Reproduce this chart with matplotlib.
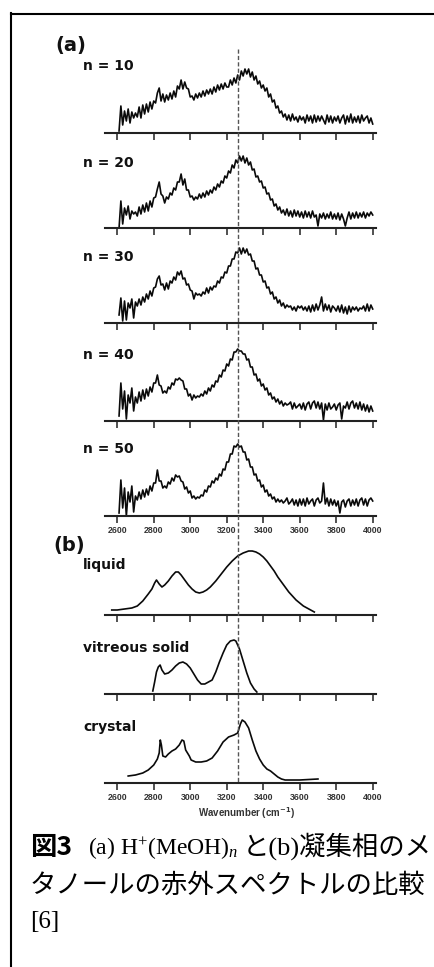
import numpy as np
import matplotlib
matplotlib.use("Agg")
import matplotlib.pyplot as plt
from matplotlib.lines import Line2D

plt.rcParams['mathtext.fontset'] = 'custom'
plt.rcParams['mathtext.rm'] = 'Liberation Serif'
plt.rcParams['mathtext.it'] = 'Liberation Serif:italic'
plt.rcParams['mathtext.bf'] = 'Liberation Serif:bold'

# ---------------- data ----------------
tick_values = [2600, 2800, 3000, 3200, 3400, 3600, 3800, 4000]
tick_labels = ["2600", "2800", "3000", "3200", "3400", "3600", "3800", "4000"]
x_dash = 3263

# (a) H+(MeOH)n spectra, wavenumber grid 2610..4000 step 10
wn_a = np.arange(2610, 4001, 10)
labels_a = ["n = 10", "n = 20", "n = 30", "n = 40", "n = 50"]

n10 = [2, 27, 8, 22, 12, 24, 10, 21, 15, 20,
       16, 26, 15, 28, 19, 29, 21, 31, 24, 32,
       30, 40, 45, 32, 39, 31, 38, 33, 40, 34,
       42, 36, 47, 44, 53, 44, 51, 45, 44, 36,
       37, 33, 39, 35, 40, 36, 42, 37, 43, 39,
       44, 39, 46, 41, 48, 43, 49, 44, 50, 46,
       46, 53, 48, 55, 50, 58, 53, 62, 57, 64,
       59, 64, 56, 61, 53, 57, 49, 52, 45, 48,
       42, 45, 36, 39, 31, 33, 25, 27, 20, 22,
       16, 19, 13, 18, 12, 19, 13, 16, 11, 17,
       13, 16, 10, 18, 12, 17, 10, 18, 11, 17,
       12, 17, 13, 9, 18, 11, 17, 10, 16, 12,
       17, 10, 15, 18, 9, 17, 11, 19, 10, 16,
       11, 17, 10, 18, 12, 15, 17, 10, 15, 9]

n20 = [0, 27, 4, 20, 13, 22, 9, 17, 14, 16,
       12, 21, 14, 23, 16, 25, 17, 27, 21, 30,
       31, 39, 46, 34, 32, 25, 31, 29, 35, 33,
       40, 38, 46, 46, 54, 43, 49, 38, 38, 31,
       32, 28, 31, 29, 34, 30, 35, 31, 37, 33,
       38, 35, 41, 38, 44, 41, 47, 45, 52, 50,
       57, 55, 63, 60, 68, 65, 72, 67, 72, 65,
       70, 63, 66, 58, 59, 51, 52, 46, 47, 40,
       41, 34, 35, 28, 29, 22, 24, 18, 21, 15,
       18, 13, 19, 12, 17, 11, 18, 12, 17, 11,
       16, 10, 17, 11, 16, 10, 17, 11, 13, 2,
       14, 10, 15, 9, 14, 10, 16, 9, 14, 9,
       15, 8, 14, 9, 2, 10, 16, 9, 15, 10,
       16, 10, 15, 11, 16, 10, 15, 12, 16, 13]

n30 = [8, 25, 2, 22, 3, 20, 15, 24, 5, 21,
       17, 24, 18, 26, 21, 29, 24, 32, 27, 35,
       36, 44, 47, 38, 39, 33, 40, 34, 42, 40,
       46, 43, 51, 48, 52, 44, 45, 38, 39, 33,
       32, 24, 30, 28, 29, 27, 31, 29, 35, 30,
       36, 33, 37, 36, 42, 40, 46, 45, 51, 50,
       57, 57, 64, 64, 71, 70, 75, 69, 75, 70,
       74, 68, 69, 62, 62, 54, 55, 48, 48, 41,
       42, 35, 36, 29, 31, 24, 26, 20, 23, 17,
       20, 15, 18, 16, 17, 13, 16, 12, 17, 15,
       17, 13, 16, 12, 17, 11, 18, 12, 19, 13,
       18, 26, 12, 19, 13, 18, 11, 17, 15, 12,
       17, 11, 18, 10, 16, 9, 17, 11, 16, 13,
       16, 12, 15, 14, 17, 12, 19, 12, 18, 14]

n40 = [5, 38, 12, 30, 2, 26, 18, 33, 10, 24,
       18, 29, 20, 31, 22, 32, 25, 34, 29, 38,
       38, 46, 36, 35, 28, 30, 28, 34, 32, 38,
       36, 42, 41, 43, 41, 40, 32, 32, 25, 27,
       21, 26, 23, 25, 24, 27, 25, 30, 27, 33,
       30, 36, 34, 40, 39, 46, 44, 51, 50, 57,
       55, 62, 61, 69, 69, 72, 70, 70, 67, 67,
       61, 62, 54, 54, 46, 47, 40, 42, 35, 37,
       31, 33, 26, 28, 22, 24, 19, 22, 17, 20,
       15, 18, 16, 17, 19, 12, 18, 13, 15, 17,
       12, 18, 11, 17, 19, 12, 18, 20, 13, 19,
       12, 18, 1, 17, 11, 18, 12, 14, 17, 11,
       16, 18, 2, 15, 13, 19, 12, 18, 20, 13,
       18, 12, 19, 11, 17, 10, 16, 9, 15, 10]

n50 = [3, 36, 8, 28, 0, 24, 14, 30, 4, 20,
       16, 24, 17, 26, 19, 27, 21, 30, 25, 33,
       33, 46, 35, 35, 28, 30, 28, 34, 32, 38,
       35, 41, 39, 40, 35, 34, 27, 29, 23, 25,
       18, 20, 17, 19, 18, 21, 20, 26, 24, 30,
       29, 35, 33, 38, 36, 42, 40, 47, 46, 54,
       54, 62, 62, 70, 69, 72, 69, 70, 64, 64,
       56, 57, 49, 49, 41, 42, 35, 36, 29, 31,
       24, 26, 20, 22, 17, 19, 14, 17, 14, 16,
       13, 15, 18, 12, 14, 17, 11, 16, 10, 17,
       11, 17, 10, 18, 12, 15, 17, 10, 16, 18,
       13, 15, 33, 12, 18, 10, 17, 11, 16, 10,
       15, 3, 14, 16, 9, 15, 17, 10, 16, 11,
       17, 10, 16, 18, 11, 17, 10, 16, 18, 15]

# (b) condensed-phase methanol spectra
labels_b = ["liquid", "vitreous solid", "crystal"]

liquid_wn = [2570, 2600, 2640, 2680, 2710, 2740, 2770, 2790, 2805, 2815,
             2830, 2845, 2860, 2880, 2900, 2920, 2935, 2950, 2970, 2990,
             3010, 3030, 3050, 3070, 3090, 3110, 3140, 3170, 3200, 3230,
             3260, 3290, 3320, 3340, 3360, 3380, 3400, 3420, 3440, 3460,
             3480, 3500, 3520, 3540, 3560, 3580, 3600, 3620, 3640, 3660, 3680]
liquid_int = [5, 5, 6, 7, 9, 14, 21, 26, 32, 35,
              31, 28, 30, 34, 39, 43, 43, 40, 35, 30,
              26, 23, 22, 23, 25, 28, 34, 41, 48, 54,
              59, 62, 64, 64, 63, 61, 58, 54, 49, 44,
              38, 33, 28, 23, 19, 15, 12, 9, 7, 5, 3]

vitreous_wn = [2795, 2805, 2815, 2825, 2835, 2845, 2860, 2880, 2900, 2920,
               2940, 2960, 2980, 3000, 3020, 3040, 3060, 3080, 3100, 3120,
               3140, 3160, 3180, 3200, 3220, 3240, 3250, 3270, 3290, 3310,
               3330, 3350, 3365]
vitreous_int = [3, 12, 22, 27, 29, 24, 20, 21, 24, 28,
                31, 32, 30, 26, 20, 14, 10, 10, 12, 14,
                22, 32, 41, 49, 53, 54, 53, 45, 33, 21,
                11, 5, 2]

crystal_wn = [2660, 2700, 2740, 2770, 2800, 2820, 2830, 2836, 2842, 2850,
              2865, 2880, 2900, 2920, 2940, 2955, 2965, 2975, 2985, 2995,
              3005, 3030, 3060, 3090, 3120, 3150, 3180, 3210, 3240, 3260,
              3275, 3285, 3300, 3320, 3340, 3360, 3380, 3400, 3420, 3440,
              3460, 3480, 3500, 3520, 3600, 3700]
crystal_int = [7, 8, 10, 13, 18, 24, 30, 43, 38, 27,
               26, 29, 32, 34, 38, 43, 42, 33, 30, 27,
               23, 21, 21, 22, 25, 32, 41, 46, 48, 50,
               59, 63, 61, 55, 43, 32, 24, 18, 14, 12,
               9, 6, 4, 3, 3, 4]

# ---------------- layout ----------------
W, H, DPI = 435, 967, 100
fig = plt.figure(figsize=(W / DPI, H / DPI), dpi=DPI)
fig.patch.set_facecolor("white")


def fx(px):
    return px / W


def fy(py):
    return 1 - py / H


AX_L, AX_R, AX_H = 105, 376, 75
XLIM = (2533, 4018)
baselines = [133, 228, 323, 421, 516, 615, 694, 783]
label_y = [66, 163, 257, 355, 449, 565, 648, 727]

series = [(wn_a, n10), (wn_a, n20), (wn_a, n30), (wn_a, n40), (wn_a, n50),
          (liquid_wn, liquid_int), (vitreous_wn, vitreous_int),
          (crystal_wn, crystal_int)]
names = labels_a + labels_b
show_ticklabels = [False, False, False, False, True, False, False, True]

axes = []
for i, ((xs, ys), base) in enumerate(zip(series, baselines)):
    ax = fig.add_axes([fx(AX_L), fy(base), fx(AX_R) - fx(AX_L), AX_H / H])
    lw = 1.2 if i < 5 else 1.2
    ax.plot(xs, ys, color="#0a0a0a", lw=lw, clip_on=False)
    ax.set_xlim(XLIM)
    ax.set_ylim(0, AX_H)
    for s in ["top", "right", "left"]:
        ax.spines[s].set_visible(False)
    ax.spines["bottom"].set_linewidth(1.5)
    ax.spines["bottom"].set_color("#222222")
    ax.set_yticks([])
    ax.set_xticks(tick_values)
    ax.tick_params(axis="x", direction="out", length=5, width=1.1,
                   color="#222222", pad=2.5)
    if show_ticklabels[i]:
        ax.set_xticklabels(tick_labels, fontsize=6.3, fontweight="bold",
                           family="Liberation Sans", color="#333333")
    else:
        ax.tick_params(labelbottom=False)
    ax.patch.set_visible(False)
    fig.text(fx(83), fy(label_y[i]), names[i], fontsize=10, fontweight="bold",
             family="DejaVu Sans", va="center", ha="left", color="#111111")
    axes.append(ax)

# panel letters
fig.text(fx(55), fy(46), "(a)", fontsize=14, fontweight="bold",
         family="DejaVu Sans", va="center", ha="left", color="#111111")
fig.text(fx(53), fy(545), "(b)", fontsize=14, fontweight="bold",
         family="DejaVu Sans", va="center", ha="left", color="#111111")

# axis title
fig.text(fx(247), fy(813), r"Wavenumber (cm$^{\mathbf{-1}}$)", fontsize=7,
         fontweight="bold", family="Liberation Sans", ha="center", va="center",
         color="#333333", math_fontfamily="dejavusans")

# dashed reference line through all panels
inv = fig.transFigure.inverted()
xd = inv.transform(axes[0].transData.transform((x_dash, 0)))[0]
fig.add_artist(Line2D([xd, xd], [fy(49), fy(783)], transform=fig.transFigure,
                      color="#555555", lw=1.0, dashes=(3, 1.6)))

# frame (left and top border)
fig.add_artist(Line2D([fx(11.5), fx(11.5)], [fy(13), 0], transform=fig.transFigure,
                      color="black", lw=1.5))
fig.add_artist(Line2D([fx(10.8), 1], [fy(14), fy(14)], transform=fig.transFigure,
                      color="black", lw=1.5))

# caption
CJK = "Noto Sans CJK JP"
renderer = fig.canvas.get_renderer()
fig.text(fx(30), fy(855), "図3", fontsize=19, fontweight="bold",
         family=CJK, va="baseline", ha="left")
t_lat = fig.text(fx(88), fy(855), r"(a) H$^{+}$(MeOH)$_{n}$", fontsize=17,
                 family="Liberation Serif", va="baseline", ha="left",
                 math_fontfamily="custom")
x_end = inv.transform((t_lat.get_window_extent(renderer).x1 + 4, 0))[0]
fig.text(x_end, fy(855), "と(b)凝集相のメ", fontsize=19,
         family=["Liberation Serif", CJK], va="baseline", ha="left")
fig.text(fx(30), fy(893), "タノールの赤外スペクトルの比較", fontsize=19,
         family=CJK, va="baseline", ha="left")
fig.text(fx(30), fy(928), "[6]", fontsize=18, family="Liberation Serif",
         va="baseline", ha="left")

fig.savefig("out.png", dpi=DPI, facecolor="white")
